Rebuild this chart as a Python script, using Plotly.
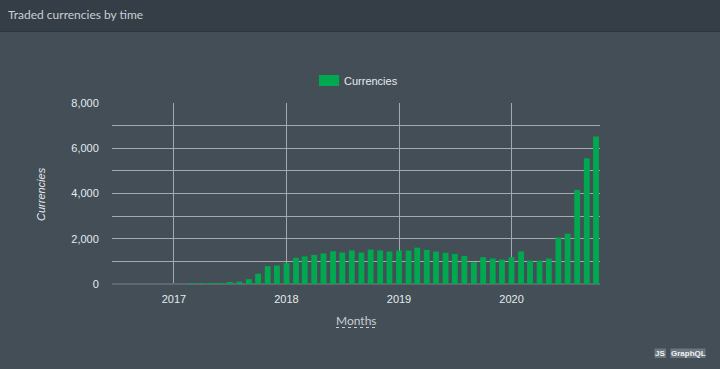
import plotly.graph_objects as go

months = ["2016-07-01","2016-08-01","2016-09-01","2016-10-01","2016-11-01","2016-12-01",
          "2017-01-01","2017-02-01","2017-03-01","2017-04-01","2017-05-01","2017-06-01",
          "2017-07-01","2017-08-01","2017-09-01","2017-10-01","2017-11-01","2017-12-01",
          "2018-01-01","2018-02-01","2018-03-01","2018-04-01","2018-05-01","2018-06-01",
          "2018-07-01","2018-08-01","2018-09-01","2018-10-01","2018-11-01","2018-12-01",
          "2019-01-01","2019-02-01","2019-03-01","2019-04-01","2019-05-01","2019-06-01",
          "2019-07-01","2019-08-01","2019-09-01","2019-10-01","2019-11-01","2019-12-01",
          "2020-01-01","2020-02-01","2020-03-01","2020-04-01","2020-05-01","2020-06-01",
          "2020-07-01","2020-08-01","2020-09-01","2020-10-01"]
currencies = [0, 0, 0, 0, 0, 0,
              0, 0, 2, 3, 6, 15,
              45, 104, 215, 455, 787, 817,
              920, 1158, 1218, 1285, 1350, 1448,
              1390, 1485, 1390, 1520, 1481, 1437,
              1481, 1481, 1608, 1511, 1437, 1378,
              1333, 1244, 963, 1185, 1126, 1081,
              1185, 1437, 1037, 1037, 1126, 2059,
              2222, 4163, 5556, 6519]
y_tickvals = [0, 2000, 4000, 6000, 8000]
x_tickvals = ["2017-01-01", "2018-01-01", "2019-01-01", "2020-01-01"]
x_ticktext = ["2017", "2018", "2019", "2020"]

W, H = 720, 369
L, R, T, B = 112, 600, 103, 284
pw, ph = R - L, B - T

def px(x):
    return (x - L) / pw

def py(y):
    return (B - y) / ph

BG = "#434e56"
HEAD = "#353e47"
GRID = "#a3a9ad"
TXT = "#e6ebef"
GREEN = "#00a94f"
FONT = "Liberation Sans, Arial, sans-serif"

fig = go.Figure()
fig.add_trace(go.Bar(x=months, y=currencies, name="Currencies",
                     marker=dict(color=GREEN, line=dict(width=0)),
                     width=19 * 86400000, showlegend=False))

fig.update_layout(
    width=W, height=H,
    margin=dict(l=L, r=W - R, t=T, b=H - B, pad=0),
    paper_bgcolor=BG, plot_bgcolor=BG,
    font=dict(family=FONT, size=11, color=TXT),
    showlegend=False,
    xaxis=dict(type="date", range=["2016-06-14", "2020-10-14"],
               tickvals=x_tickvals, ticktext=x_ticktext,
               showgrid=True, gridcolor=GRID, gridwidth=1,
               ticks="outside", ticklen=5, tickcolor=BG,
               tickfont=dict(size=11, color=TXT),
               zeroline=False, showline=False),
    yaxis=dict(range=[0, 8000], tickvals=y_tickvals, tickformat=",",
               showgrid=True, gridcolor=GRID, gridwidth=1,
               minor=dict(dtick=1000, tick0=0, showgrid=True, gridcolor=GRID, gridwidth=1),
               ticks="outside", ticklen=10, tickcolor=BG,
               tickfont=dict(size=11, color=TXT),
               zeroline=True, zerolinecolor="#5e686f", zerolinewidth=2,
               showline=False),
)

shapes = [
    dict(type="rect", xref="paper", yref="paper", layer="below",
         x0=px(0), x1=px(W), y0=py(31), y1=py(0),
         fillcolor=HEAD, line=dict(width=0)),
    dict(type="line", xref="paper", yref="paper",
         x0=px(0), x1=px(W), y0=py(31.5), y1=py(31.5),
         line=dict(color="#2e363e", width=1)),
    # legend swatch
    dict(type="rect", xref="paper", yref="paper",
         x0=px(319), x1=px(339), y0=py(86), y1=py(75),
         fillcolor=GREEN, line=dict(width=0)),
    # dotted underline of Months
    dict(type="line", xref="paper", yref="paper",
         x0=px(336), x1=px(375), y0=py(327.5), y1=py(327.5),
         line=dict(color="#c9ced2", width=1, dash="dot")),
    # badges
    dict(type="rect", xref="paper", yref="paper",
         x0=px(654.5), x1=px(666), y0=py(358), y1=py(348.5),
         fillcolor="#6b757c", line=dict(width=0)),
    dict(type="rect", xref="paper", yref="paper",
         x0=px(670.5), x1=px(705.5), y0=py(358), y1=py(348.5),
         fillcolor="#6b757c", line=dict(width=0)),
]

annotations = [
    dict(text="Traded currencies by time", xref="paper", yref="paper",
         x=px(6), y=py(14), xanchor="left", yanchor="middle", showarrow=False,
         font=dict(family="Lato, Open Sans, sans-serif", size=12, color="#c9cfd4")),
    dict(text="Currencies", xref="paper", yref="paper",
         x=px(342), y=py(81), xanchor="left", yanchor="middle", showarrow=False,
         font=dict(family=FONT, size=11, color=TXT)),
    dict(text="<i>Currencies</i>", xref="paper", yref="paper",
         x=px(41), y=py(194), xanchor="center", yanchor="middle", showarrow=False,
         textangle=-90, font=dict(family=FONT, size=11, color=TXT)),
    dict(text="Months", xref="paper", yref="paper",
         x=px(356), y=py(320), xanchor="center", yanchor="middle", showarrow=False,
         font=dict(family="Lato, Open Sans, sans-serif", size=12, color="#c9ced2")),
    dict(text="<b>JS</b>", xref="paper", yref="paper",
         x=px(660.3), y=py(353.3), xanchor="center", yanchor="middle", showarrow=False,
         font=dict(family=FONT, size=8, color="#eef1f3")),
    dict(text="<b>GraphQL</b>", xref="paper", yref="paper",
         x=px(688), y=py(353.3), xanchor="center", yanchor="middle", showarrow=False,
         font=dict(family=FONT, size=8, color="#eef1f3")),
]

fig.update_layout(shapes=shapes, annotations=annotations)
fig.write_html("out.html",
               config={"displayModeBar": False},
               post_script="document.body.style.margin='0';document.body.style.padding='0';"
                           "document.body.style.overflow='hidden';"
                           "document.body.style.background='#434e56';")
